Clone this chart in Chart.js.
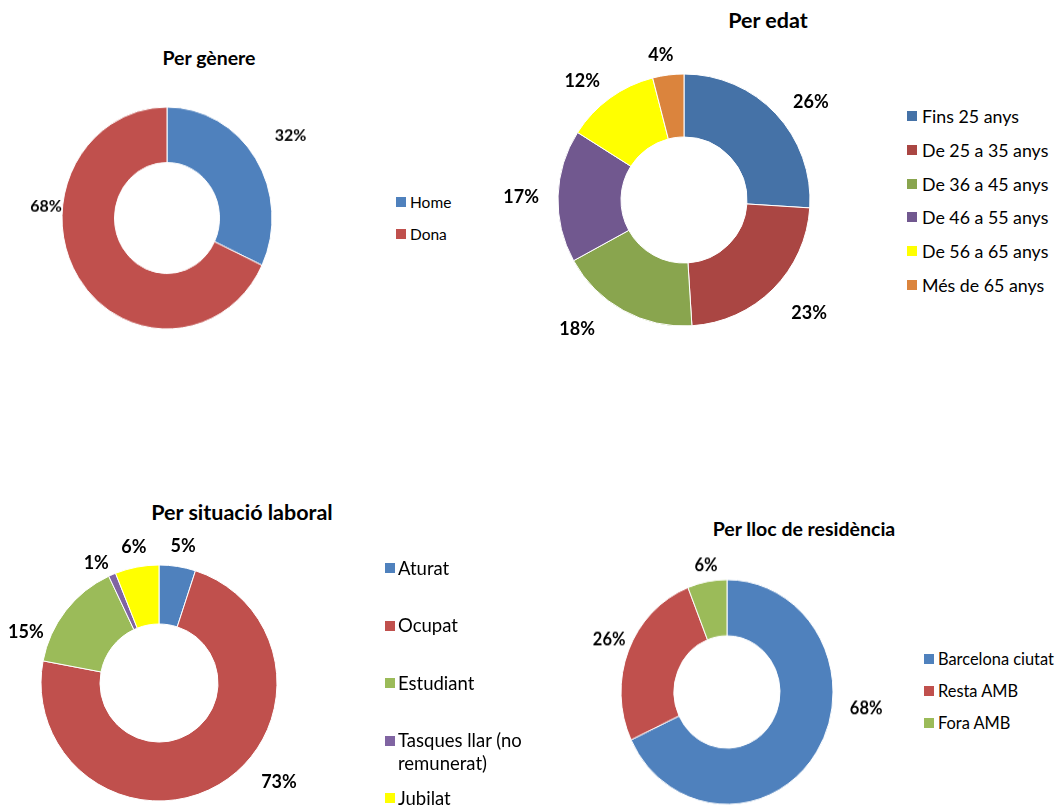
<!DOCTYPE html>
<html lang="ca">
<head>
<meta charset="utf-8">
<title>Perfil dels participants</title>
<script src="https://cdn.jsdelivr.net/npm/chart.js@4.4.1/dist/chart.umd.min.js"></script>
<style>
  html, body { margin: 0; padding: 0; background: #fff; }
  body {
    width: 1057px; height: 806px; overflow: hidden; position: relative;
    font-family: Lato, "Open Sans", sans-serif; color: #000;
  }
  .title {
    position: absolute; font-weight: bold; white-space: nowrap;
    transform: translate(-50%, -50%);
  }
  .box { position: absolute; transform-origin: 50% 50%; }
  .legend-item { position: absolute; display: flex; align-items: flex-start; }
  .swatch { width: 10px; height: 10px; flex: none; }
</style>
</head>
<body>

<div class="title" style="left:209px; top:57px; font-size:19.5px">Per gènere</div>
<div class="title" style="left:768px; top:20px; font-size:21.5px">Per edat</div>
<div class="title" style="left:242px; top:512px; font-size:21.5px">Per situació laboral</div>
<div class="title" style="left:804px; top:528px; font-size:19.5px">Per lloc de residència</div>

<div class="box" id="box1"><canvas id="genere"></canvas></div>
<div class="box" id="box2"><canvas id="edat"></canvas></div>
<div class="box" id="box3"><canvas id="laboral"></canvas></div>
<div class="box" id="box4"><canvas id="residencia"></canvas></div>

<script>
// data
const genereLabels = ['Home', 'Dona'];
const genereValues = [32, 68];

const edatLabels = ['Fins 25 anys', 'De 25 a 35 anys', 'De 36 a 45 anys',
                    'De 46 a 55 anys', 'De 56 a 65 anys', 'Més de 65 anys'];
const edatValues = [26, 23, 18, 17, 12, 4];

const laboralLabels = ['Aturat', 'Ocupat', 'Estudiant', 'Tasques llar (no remunerat)', 'Jubilat'];
const laboralValues = [5, 73, 15, 1, 6];

const residenciaLabels = ['Barcelona ciutat', 'Resta AMB', 'Fora AMB'];
const residenciaValues = [68, 26, 6];

const officeColors = ['#4F81BD', '#C0504D', '#9BBB59', '#8064A2', '#FFFF00'];
const edatColors = ['#4572A7', '#AA4643', '#89A54E', '#71588F', '#FFFF00', '#DB843D'];

// percentage labels outside the ring, placed from each arc's own geometry
const percentLabels = {
  id: 'percentLabels',
  afterDatasetsDraw(chart, args, opts) {
    const ctx = chart.ctx;
    const data = chart.data.datasets[0].data;
    ctx.save();
    ctx.font = 'bold ' + opts.size + 'px Lato, "Open Sans", sans-serif';
    ctx.fillStyle = '#000';
    ctx.textAlign = 'center';
    ctx.textBaseline = 'middle';
    chart.getDatasetMeta(0).data.forEach((arc, i) => {
      const p = arc.getProps(['x', 'y', 'startAngle', 'endAngle', 'outerRadius'], true);
      const [f, gap] = opts.place[i] || [0.5, 10];
      const a = p.startAngle + f * (p.endAngle - p.startAngle);
      const text = data[i] + '%';
      const hw = ctx.measureText(text).width / 2;
      const c = Math.cos(a), s = Math.sin(a);
      const d = p.outerRadius + gap + Math.abs(c) * hw + Math.abs(s) * opts.size * 0.45;
      ctx.fillText(text, p.x + c * d, p.y + s * d);
    });
    ctx.restore();
  }
};

function donut(id, boxId, labels, values, colors, cfg) {
  const box = document.getElementById(boxId);
  box.style.left = (cfg.cx - cfg.size / 2) + 'px';
  box.style.top = (cfg.cy - cfg.size / 2) + 'px';
  box.style.width = cfg.size + 'px';
  box.style.height = cfg.size + 'px';
  if (cfg.stretch) box.style.transform = 'scaleY(' + cfg.stretch + ')';
  const canvas = document.getElementById(id);
  canvas.width = cfg.size;
  canvas.height = cfg.size;
  return new Chart(canvas, {
    type: 'doughnut',
    data: {
      labels: labels,
      datasets: [{
        data: values,
        backgroundColor: colors,
        borderColor: '#fff',
        borderWidth: 1,
        hoverOffset: 0
      }]
    },
    options: {
      responsive: false,
      animation: false,
      events: [],
      cutout: '50%',
      radius: cfg.radius,
      layout: {padding: 0},
      plugins: {
        legend: {display: false},
        tooltip: {enabled: false},
        percentLabels: {size: cfg.fontSize, place: cfg.place}
      }
    },
    plugins: [percentLabels]
  });
}

function legend(labels, colors, cfg) {
  labels.forEach((label, i) => {
    const item = document.createElement('div');
    item.className = 'legend-item';
    item.style.left = cfg.x + 'px';
    item.style.top = (cfg.y + i * cfg.step - cfg.lh / 2) + 'px';
    item.style.fontSize = cfg.fontSize + 'px';
    item.style.lineHeight = cfg.lh + 'px';
    const sw = document.createElement('span');
    sw.className = 'swatch';
    sw.style.background = colors[i];
    sw.style.marginTop = ((cfg.lh - 10) / 2) + 'px';
    const txt = document.createElement('span');
    txt.textContent = label;
    txt.style.marginLeft = cfg.textGap + 'px';
    if (cfg.width) txt.style.width = cfg.width + 'px';
    item.appendChild(sw);
    item.appendChild(txt);
    document.body.appendChild(item);
  });
}

Chart.defaults.font.family = 'Lato, "Open Sans", sans-serif';

donut('genere', 'box1', genereLabels, genereValues, officeColors, {
  cx: 167, cy: 218, size: 380, radius: 105, stretch: 1.057, fontSize: 16,
  place: [[0.5, 24], [0.653, 0]]
});
donut('edat', 'box2', edatLabels, edatValues, edatColors, {
  cx: 684, cy: 200, size: 400, radius: 126, fontSize: 18,
  place: [[0.56, 15], [0.465, 24], [0.667, 24], [0.487, 19], [0.396, 13], [0.37, 11]]
});
donut('laboral', 'box3', laboralLabels, laboralValues, officeColors, {
  cx: 159, cy: 683, size: 380, radius: 118, fontSize: 18,
  place: [[0.556, 11], [0.425, 19], [0.187, 5], [-0.69, 4], [0.514, 10]]
});
donut('residencia', 'box4', residenciaLabels, residenciaValues, officeColors, {
  cx: 727, cy: 691.5, size: 380, radius: 106, stretch: 1.06, fontSize: 16.5,
  place: [[0.394, 17], [0.514, 4], [0.537, 6]]
});

legend(genereLabels, officeColors, {x: 396, y: 202, step: 31.5, fontSize: 15.5, lh: 20, textGap: 4});
legend(edatLabels, edatColors, {x: 907, y: 116, step: 33.8, fontSize: 17.8, lh: 22, textGap: 5});
legend(laboralLabels, officeColors, {x: 385, y: 568, step: 57.6, fontSize: 18.5, lh: 23, textGap: 3, width: 150});
legend(residenciaLabels, officeColors, {x: 924, y: 659, step: 32, fontSize: 16.4, lh: 20, textGap: 4});
</script>
</body>
</html>
